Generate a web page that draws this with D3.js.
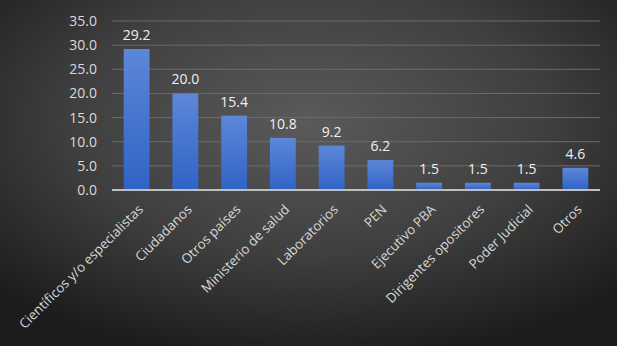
<!DOCTYPE html>
<html>
<head>
<meta charset="utf-8">
<script src="https://cdn.jsdelivr.net/npm/d3@7"></script>
<style>
  body { margin: 0; background: #fff; }
  text { font-family: 'Open Sans', sans-serif; }
</style>
</head>
<body>
<div id="chart"></div>
<script>
const categories = ['Científicos y/o especialistas', 'Ciudadanos', 'Otros países', 'Ministerio de salud',
  'Laboratorios', 'PEN', 'Ejecutivo PBA', 'Dirigentes opositores', 'Poder Judicial', 'Otros']
const values = [29.2, 20.0, 15.4, 10.8, 9.2, 6.2, 1.5, 1.5, 1.5, 4.6]
const yTicks = [0, 5, 10, 15, 20, 25, 30, 35]

const W = 620
const H = 349
const margin = { top: 21, left: 112, right: 20, bottom: 159 }
const width = W - margin.left - margin.right
const height = H - margin.top - margin.bottom

const root = d3.select('#chart')
  .append('svg')
  .attr('width', W)
  .attr('height', H)

const defs = root.append('defs')
const bg = defs.append('radialGradient')
  .attr('id', 'bg')
  .attr('cx', '50%').attr('cy', '35%').attr('r', '70%')
bg.append('stop').attr('offset', '0%').attr('stop-color', '#5a5a5a')
bg.append('stop').attr('offset', '55%').attr('stop-color', '#3f3f3f')
bg.append('stop').attr('offset', '100%').attr('stop-color', '#1c1c1c')

const barGrad = defs.append('linearGradient')
  .attr('id', 'bar')
  .attr('x1', 0).attr('y1', 0).attr('x2', 0).attr('y2', 1)
barGrad.append('stop').attr('offset', '0%').attr('stop-color', '#5d87d8')
barGrad.append('stop').attr('offset', '100%').attr('stop-color', '#3063c6')

// chart background
root.append('rect')
  .attr('x', 0).attr('y', 0)
  .attr('width', 617).attr('height', 346)
  .attr('fill', 'url(#bg)')

const svg = root.append('g')
  .attr('transform', 'translate(' + margin.left + ',' + margin.top + ')')

const xPositionScale = d3.scaleBand()
  .domain(categories)
  .range([0, width])
  .paddingInner(0.47)
  .paddingOuter(0.24)

const yPositionScale = d3.scaleLinear()
  .domain([0, 35])
  .range([height, 0])

// gridlines
svg.append('g')
  .selectAll('line')
  .data(yTicks.slice(1))
  .enter()
  .append('line')
  .attr('x1', 0)
  .attr('x2', width)
  .attr('y1', d => yPositionScale(d))
  .attr('y2', d => yPositionScale(d))
  .attr('stroke', '#6b6b6b')
  .attr('stroke-width', 1)

svg.selectAll('.bar')
  .data(values)
  .enter()
  .append('rect')
  .attr('class', 'bar')
  .attr('x', (d, i) => xPositionScale(categories[i]))
  .attr('width', xPositionScale.bandwidth())
  .attr('y', d => yPositionScale(d))
  .attr('height', d => height - yPositionScale(d))
  .attr('fill', 'url(#bar)')

// value labels
svg.selectAll('.val')
  .data(values)
  .enter()
  .append('text')
  .attr('class', 'val')
  .attr('x', (d, i) => xPositionScale(categories[i]) + xPositionScale.bandwidth() / 2)
  .attr('y', d => yPositionScale(d) - 9)
  .attr('text-anchor', 'middle')
  .attr('font-size', '14px')
  .attr('fill', '#f0f0f0')
  .text(d => d.toFixed(1))

// baseline
svg.append('line')
  .attr('x1', 0).attr('x2', width)
  .attr('y1', height).attr('y2', height)
  .attr('stroke', '#bfbfbf')
  .attr('stroke-width', 2)

const yAxis = d3.axisLeft(yPositionScale)
  .tickValues(yTicks)
  .tickFormat(d3.format('.1f'))
  .tickSize(0)
  .tickPadding(15)
const yG = svg.append('g').attr('class', 'axis y-axis').call(yAxis)
yG.select('.domain').remove()
yG.selectAll('text')
  .attr('font-size', '14px')
  .attr('font-family', "'Open Sans', sans-serif")
  .attr('fill', '#d9d9d9')

const xAxis = d3.axisBottom(xPositionScale).tickSize(0).tickPadding(0)
const xG = svg.append('g')
  .attr('class', 'axis x-axis')
  .attr('transform', 'translate(0,' + height + ')')
  .call(xAxis)
xG.select('.domain').remove()
xG.selectAll('text')
  .attr('font-size', '13.3px')
  .attr('font-family', "'Open Sans', sans-serif")
  .attr('fill', '#d9d9d9')
  .attr('text-anchor', 'end')
  .attr('dy', '0.35em')
  .attr('transform', 'translate(4,17) rotate(-45)')
</script>
</body>
</html>
